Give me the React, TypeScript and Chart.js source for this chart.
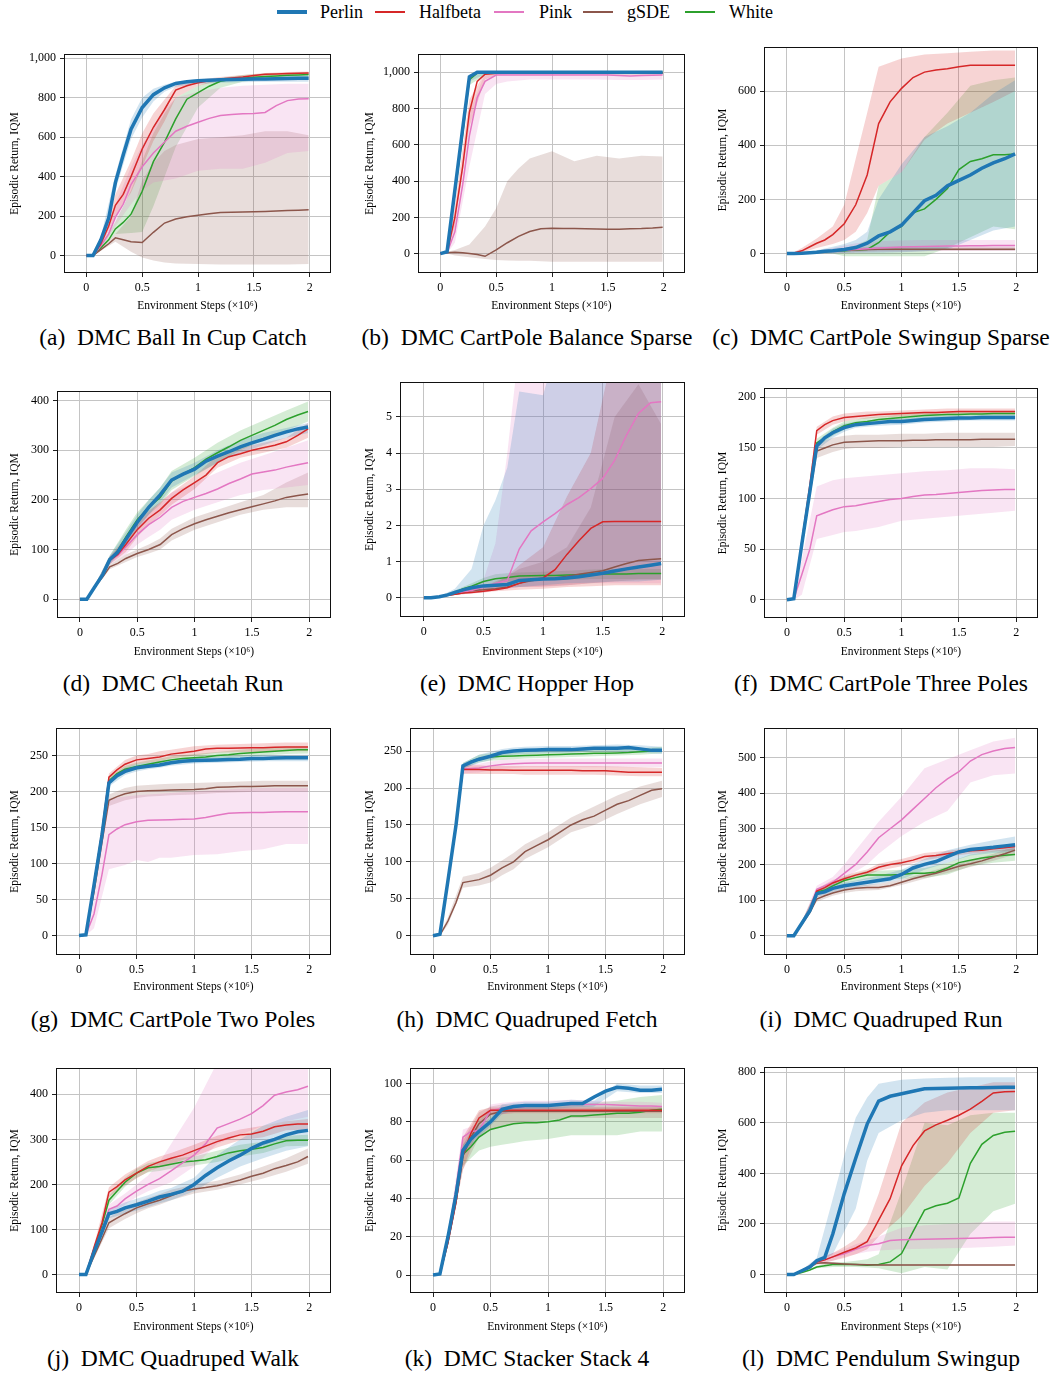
import React, { useEffect, useRef } from "react";
import { Chart, registerables } from "chart.js";
Chart.register(...registerables);

const FONT = '"Liberation Serif", "Times New Roman", Times, serif';

const SERIES = ["Perlin", "Halfbeta", "Pink", "gSDE", "White"];
const COLORS = ["#1f77b4", "#d62728", "#e377c2", "#8c564b", "#2ca02c"];

// x grid for mean lines (millions of steps) and for shaded IQM bands
const X = [0, 0.06, 0.13, 0.2, 0.26, 0.33, 0.4, 0.5, 0.6, 0.7, 0.8, 0.9, 1, 1.1, 1.2, 1.3, 1.4, 1.5, 1.6, 1.7, 1.8, 1.9, 1.99];
const XB = [0, 0.06, 0.13, 0.26, 0.4, 0.5, 0.6, 0.7, 0.8, 1, 1.2, 1.4, 1.6, 1.8, 1.99];
const X_TICKS = [0, 0.5, 1, 1.5, 2];

// (a) Ball In Cup Catch
const aPerlin = [0,0,80,190,370,510,640,750,815,850,872,880,885,888,890,892,893,894,895,896,897,898,898];
const aPerlinLo = [0,0,65,330,590,700,780,830,855,870,875,878,880,880,880];
const aPerlinHi = [0,0,95,410,690,800,845,865,880,895,900,905,908,910,912];
const aHalfbeta = [0,0,60,150,255,310,400,540,650,740,838,860,875,885,895,900,905,912,918,920,922,924,925];
const aHalfbetaLo = [0,0,45,200,320,450,580,680,800,860,885,900,910,915,918];
const aHalfbetaHi = [0,0,75,310,480,620,720,790,860,890,905,915,925,930,932];
const aPink = [0,0,50,110,195,260,360,450,520,575,630,655,675,695,710,715,718,720,725,760,785,793,795];
const aPinkLo = [0,0,35,150,260,330,370,380,390,430,440,440,470,520,530];
const aPinkHi = [0,0,70,260,450,560,650,740,800,830,850,860,865,870,870];
const aGsde = [0,0,30,60,90,80,70,66,118,165,185,197,205,212,218,220,221,222,224,226,228,230,232];
const aGsdeLo = [0,0,25,70,20,-10,-25,-35,-40,-42,-45,-45,-45,-45,-42];
const aGsdeHi = [0,0,35,110,200,380,470,530,560,590,600,610,630,630,610];
const aWhite = [0,0,40,80,135,168,210,326,476,575,692,792,825,858,883,893,898,903,907,910,913,915,917];
const aWhiteLo = [0,0,30,110,115,120,250,400,550,750,850,880,895,900,905];
const aWhiteHi = [0,0,55,170,330,480,620,720,800,860,900,915,922,925,928];

// (b) CartPole Balance Sparse
const bPerlin = [0,10,350,690,975,1000,1000,1000,1000,1000,1000,1000,1000,1000,1000,1000,1000,1000,1000,1000,1000,1000,1000];
const bPerlinLo = [0,5,330,950,990,990,992,992,992,992,992,992,992,992,992];
const bPerlinHi = [0,15,370,990,1005,1005,1005,1005,1005,1005,1005,1005,1005,1005,1005];
const bHalfbeta = [0,5,200,480,780,950,990,995,995,995,995,995,995,995,995,995,995,995,995,995,995,995,995];
const bHalfbetaLo = [0,0,150,700,960,985,988,988,988,988,988,988,988,988,988];
const bHalfbetaHi = [0,10,260,850,1000,1000,1000,1000,1000,1000,1000,1000,1000,1000,1000];
const bPink = [0,5,120,380,650,860,950,985,985,985,985,985,985,985,985,985,985,985,983,980,982,984,985];
const bPinkLo = [0,0,60,480,880,935,950,955,960,960,960,960,958,958,960];
const bPinkHi = [0,10,200,780,995,998,998,998,998,998,998,998,998,998,998];
const bGsde = [0,5,8,5,0,-5,-15,20,60,95,122,137,140,139,138,137,136,135,135,137,138,141,146];
const bGsdeLo = [0,0,-10,-20,-30,-35,-38,-40,-40,-45,-45,-45,-45,-45,-45];
const bGsdeHi = [0,10,20,50,150,250,400,470,525,565,510,540,525,540,535];
const bWhite = [0,10,330,660,960,995,1000,1000,1000,1000,1000,1000,1000,1000,1000,1000,1000,1000,1000,1000,1000,1000,1000];
const bWhiteLo = [0,5,310,930,985,990,990,990,990,990,990,990,990,990,990];
const bWhiteHi = [0,15,350,985,1003,1003,1003,1003,1003,1003,1003,1003,1003,1003,1003];

// (c) CartPole Swingup Sparse
const cPerlin = [0,0,1,3,5,8,10,15,22,38,65,80,105,150,195,215,250,270,290,315,335,350,368];
const cPerlinLo = [0,0,0,0,0,2,3,3,3,5,8,15,50,85,100];
const cPerlinHi = [0,0,3,12,25,35,50,80,200,330,430,470,520,590,640];
const cHalfbeta = [0,2,10,25,38,50,70,110,180,290,480,560,610,650,670,678,682,690,695,695,695,695,695];
const cHalfbetaLo = [0,0,3,20,35,50,80,150,250,300,420,480,520,560,600];
const cHalfbetaHi = [0,5,20,55,100,180,350,520,690,720,735,740,745,750,750];
const cPink = [0,0,1,3,5,7,9,12,15,18,20,22,24,25,26,27,28,28,29,29,30,30,30];
const cPinkLo = [0,0,0,0,1,2,3,4,5,6,8,10,10,10,10];
const cPinkHi = [0,0,3,10,20,30,38,42,45,48,50,50,50,50,50];
const cGsde = [0,0,1,3,5,7,9,12,14,15,16,16,16,16,16,16,16,16,16,16,16,16,16];
const cGsdeLo = [0,0,0,0,2,4,6,8,9,10,10,10,10,10,10];
const cGsdeHi = [0,0,3,8,15,20,22,24,25,25,25,25,25,25,25];
const cWhite = [0,0,1,3,5,7,8,10,13,15,40,80,100,150,165,200,240,310,340,350,365,365,368];
const cWhiteLo = [0,0,0,0,0,-10,-10,-10,-10,-10,-10,20,60,100,90];
const cWhiteHi = [0,0,3,10,15,20,30,50,250,300,430,520,620,640,650];

// (d) Cheetah Run
const dPerlin = [0,0,25,50,80,95,120,155,185,210,240,252,262,278,288,297,307,315,322,330,337,343,347];
const dPerlinLo = [0,0,22,70,105,140,170,195,225,250,275,295,310,325,335];
const dPerlinHi = [0,0,28,88,135,170,200,225,255,275,300,320,335,345,355];
const dHalfbeta = [0,0,25,48,78,90,110,140,163,180,203,220,235,250,275,287,293,300,305,310,317,330,343];
const dHalfbetaLo = [0,0,22,70,95,125,150,168,190,222,265,285,295,305,325];
const dHalfbetaHi = [0,0,28,86,125,155,178,195,215,248,290,305,315,325,355];
const dPink = [0,0,25,48,78,88,105,130,150,165,185,197,205,213,222,233,242,252,256,260,266,271,275];
const dPinkLo = [0,0,22,70,90,110,125,140,160,180,195,210,220,225,230];
const dPinkHi = [0,0,28,86,120,150,175,195,215,235,255,275,290,305,320];
const dGsde = [0,0,25,45,65,72,82,92,100,110,130,142,152,160,167,174,180,186,192,198,205,209,212];
const dGsdeLo = [0,0,22,60,75,85,92,100,118,140,155,170,180,185,185];
const dGsdeHi = [0,0,28,70,90,100,110,122,142,165,180,195,210,235,255];
const dWhite = [0,0,25,50,80,98,125,160,185,205,238,252,265,282,295,307,320,330,340,350,362,371,378];
const dWhiteLo = [0,0,22,72,110,145,170,190,220,248,275,300,320,340,358];
const dWhiteHi = [0,0,28,88,140,175,200,225,258,285,315,340,360,380,398];

// (e) Hopper Hop
const ePerlin = [0,0,0.03,0.08,0.15,0.22,0.28,0.33,0.35,0.37,0.48,0.5,0.52,0.53,0.55,0.58,0.63,0.68,0.74,0.8,0.85,0.9,0.95];
const ePerlinLo = [0,0,0.02,0.1,0.15,0.2,0.25,0.28,0.3,0.35,0.4,0.42,0.45,0.45,0.5];
const ePerlinHi = [0,0,0.04,0.25,0.8,2.0,2.7,3.6,5.7,5.6,8,8,8,8,8];
const eHalfbeta = [0,0,0.03,0.07,0.1,0.13,0.15,0.18,0.22,0.28,0.4,0.5,0.55,0.78,1.2,1.58,1.92,2.1,2.11,2.11,2.11,2.11,2.11];
const eHalfbetaLo = [0,0,0.02,0.08,0.12,0.15,0.18,0.2,0.22,0.25,0.3,0.32,0.35,0.35,0.35];
const eHalfbetaHi = [0,0,0.04,0.15,0.25,0.3,0.45,0.6,0.9,1.4,2.8,4.0,7,8,8];
const ePink = [0,0,0.03,0.08,0.12,0.16,0.2,0.3,0.4,0.48,1.35,1.85,2.1,2.33,2.58,2.77,3.02,3.3,3.8,4.5,5.1,5.39,5.42];
const ePinkLo = [0,0,0.02,0.08,0.12,0.15,0.2,0.25,0.3,0.3,0.35,0.4,0.4,0.4,0.4];
const ePinkHi = [0,0,0.04,0.15,0.3,0.5,1.5,4,7,8,8,8,8,8,8];
const eGsde = [0,0,0.03,0.07,0.1,0.14,0.2,0.22,0.25,0.3,0.4,0.47,0.52,0.55,0.6,0.65,0.7,0.75,0.85,0.95,1.03,1.06,1.08];
const eGsdeLo = [0,0,0.02,0.08,0.15,0.2,0.25,0.28,0.3,0.32,0.35,0.4,0.45,0.5,0.5];
const eGsdeHi = [0,0,0.04,0.15,0.25,0.3,0.4,0.6,0.8,1.0,1.4,2.5,5.0,5.9,4.8];
const eWhite = [0,0,0.03,0.08,0.15,0.25,0.32,0.45,0.53,0.56,0.6,0.61,0.62,0.62,0.63,0.64,0.65,0.66,0.66,0.66,0.67,0.67,0.67];
const eWhiteLo = [0,0,0.02,0.12,0.25,0.35,0.42,0.45,0.48,0.5,0.5,0.52,0.52,0.52,0.52];
const eWhiteHi = [0,0,0.04,0.2,0.4,0.55,0.65,0.68,0.7,0.72,0.75,0.78,0.8,0.8,0.8];

// (f) CartPole Three Poles
const fPerlin = [0,1,55,107,152,160,165,170,173,174,175,176,176,177,178,178.5,179,179.5,179.5,180,180,180,180];
const fPerlinLo = [0,0,52,148,160,166,170,171,172,173,175,176,177,177,177];
const fPerlinHi = [0,2,58,156,169,174,176,177,178,179,181,182,182,183,183];
const fHalfbeta = [0,1,58,113,167,173,177,180,181,182,183,183.5,184,184.5,185,185,185.5,186,186,186,186,186,186];
const fHalfbetaLo = [0,0,55,163,173,176,178,179,180,181,182,183,183,183,183];
const fHalfbetaHi = [0,2,61,171,181,184,185,186,186,187,188,189,189,189,189];
const fPink = [0,1,25,50,83,86,89,92,93,95,97,99,100,102,103.5,104,105,106,107,108,108.5,109,109];
const fPinkLo = [0,0,5,60,64,67,68,70,72,78,80,82,84,86,88];
const fPinkHi = [0,2,40,112,118,120,121,122,123,125,127,128,130,130,129];
const fGsde = [0,1,54,105,147,150,153,155.5,156,156.5,157,157,157,157.5,157.5,158,158,158,158,158.5,158.5,158.5,158.5];
const fGsdeLo = [0,0,50,140,146,149,150,150,150,151,151,151,151,151,152];
const fGsdeHi = [0,2,58,154,160,162,163,163,163,164,164,165,165,165,165];
const fWhite = [0,1,56,109,155,160,166,172,175,176,178,179,180,181,182,182.5,183,183,183.5,183.5,184,184,184];
const fWhiteLo = [0,0,53,151,162,168,172,174,175,177,179,180,181,181,181];
const fWhiteHi = [0,2,59,159,170,176,178,180,181,183,185,185,186,186,186];

// (g) CartPole Two Poles
const gPerlin = [0,1,70,140,212,222,228,233,235,237,240,242,243,243.5,244,244.5,245,246,246,246.5,247,247,247];
const gPerlinLo = [0,0,66,207,223,228,231,233,236,239,240,241,242,242,242];
const gPerlinHi = [0,2,74,217,233,238,240,242,245,248,249,250,251,251,251];
const gHalfbeta = [0,1,72,145,220,230,238,244,246,248,252,254,256,259,260,260,260.5,261,261,261.5,262,262,262];
const gHalfbetaLo = [0,0,68,215,232,238,240,242,246,250,254,255,255,256,256];
const gHalfbetaHi = [0,2,76,225,244,250,252,256,258,263,265,266,267,268,268];
const gPink = [0,1,30,85,140,148,154,158,160,160.5,161,161.5,162,164,167,170,170.5,171,171,171.5,172,172,172];
const gPinkLo = [0,0,10,92,98,105,102,108,108,112,113,117,120,127,127];
const gPinkHi = [0,2,50,190,193,195,196,197,198,200,202,204,205,205,205];
const gGsde = [0,1,60,130,188,193,197,200,201,201.5,202,202.5,203,204,206,206.5,207,207,207.5,208,208,208,208];
const gGsdeLo = [0,0,56,180,188,191,193,194,195,196,198,199,200,200,200];
const gGsdeHi = [0,2,64,196,205,208,209,210,211,212,213,214,215,215,215];
const gWhite = [0,1,71,143,215,225,231,235,238,241,244,246,247,248,250,251,253,254,255,256,257,258,258];
const gWhiteLo = [0,0,67,210,226,230,233,236,239,242,245,248,250,252,253];
const gWhiteHi = [0,2,75,220,236,240,243,246,249,252,255,258,260,262,263];

// (h) Quadruped Fetch
const hPerlin = [0,2,75,150,230,235,239,243,248,250,251,251.5,252,252,252,253,254,254,254,255,253,251,251];
const hPerlinLo = [0,0,71,226,234,238,243,245,246,247,248,249,249,248,246];
const hPerlinHi = [0,4,79,234,245,249,253,255,256,257,257,258,259,258,256];
const hHalfbeta = [0,2,75,150,225,225,225,224.5,224.5,224,224,224,224,224,224,223.5,223.5,223.5,222.5,221.5,221.5,221.5,221.5];
const hHalfbetaLo = [0,0,71,219,219,219,219,219,218,218,218,218,217,216,216];
const hHalfbetaHi = [0,4,79,231,231,230,230,230,230,230,230,230,229,228,227];
const hPink = [0,2,75,150,226,226.5,227,230,232,233,233.5,234,234,234,234,234,234,234,234,234,234,234,234];
const hPinkLo = [0,0,71,220,221,224,226,227,228,228,228,228,228,228,228];
const hPinkHi = [0,4,79,232,233,236,238,239,239,240,240,240,240,240,240];
const hGsde = [0,1,20,45,72,74,76,82,92,100,114,122,130,140,150,157,162,170,178,183,190,197,199];
const hGsdeLo = [0,0,15,65,68,72,82,90,104,120,140,150,165,178,188];
const hGsdeHi = [0,2,25,80,85,92,102,112,124,140,160,175,190,202,210];
const hWhite = [0,2,75,150,230,236,240,242,243,243.5,244,244.5,245,245.5,246,246.5,247,247,247.5,248,249,250,252];
const hWhiteLo = [0,0,71,226,235,237,238,239,240,241,242,243,244,245,247];
const hWhiteHi = [0,4,79,234,245,247,248,249,249,250,251,252,253,254,256];

// (i) Quadruped Run
const iPerlin = [0,0,35,70,118,123,133,140,145,150,155,160,172,190,200,208,222,235,242,245,248,252,255];
const iPerlinLo = [0,0,30,108,122,130,135,140,145,158,185,205,225,232,235];
const iPerlinHi = [0,0,40,128,145,150,155,162,168,185,215,240,255,268,278];
const iHalfbeta = [0,0,35,72,125,135,148,160,170,178,192,200,205,212,222,225,230,235,238,240,244,247,250];
const iHalfbetaLo = [0,0,30,118,140,152,162,170,182,195,212,222,230,236,240];
const iHalfbetaHi = [0,0,40,132,156,168,178,186,202,215,232,238,246,252,258];
const iPink = [0,0,35,75,130,140,150,175,200,235,275,300,325,355,385,415,440,460,490,508,518,525,528];
const iPinkLo = [0,0,30,120,140,160,180,200,230,280,320,350,430,450,455];
const iPinkHi = [0,0,40,140,165,200,240,280,320,390,470,495,520,545,555];
const iGsde = [0,0,32,65,103,112,120,128,133,135,135,140,150,160,168,175,185,195,202,210,220,230,240];
const iGsdeLo = [0,0,28,95,112,120,125,127,128,142,160,176,193,210,228];
const iGsdeHi = [0,0,36,112,128,136,141,143,145,158,176,194,212,230,250];
const iWhite = [0,0,35,70,122,128,140,155,163,170,170,170,172,175,175,178,190,205,212,218,222,226,228];
const iWhiteLo = [0,0,30,114,130,145,152,158,158,160,162,172,195,205,210];
const iWhiteHi = [0,0,40,130,150,165,174,182,182,185,190,205,228,238,245];

// (j) Quadruped Walk
const jPerlin = [0,0,50,95,135,140,148,155,163,172,178,185,200,220,237,252,265,280,292,300,310,317,320];
const jPerlinLo = [0,0,45,125,135,142,150,158,165,185,215,240,258,275,285];
const jPerlinHi = [0,0,55,145,160,168,176,186,192,215,265,300,330,350,365];
const jHalfbeta = [0,0,60,115,183,195,210,225,240,250,258,265,275,285,295,303,310,312,318,328,332,334,334];
const jHalfbetaLo = [0,0,55,172,198,213,228,238,246,262,282,298,305,320,322];
const jHalfbetaHi = [0,0,65,194,222,237,252,262,270,288,308,322,330,340,345];
const jPink = [0,0,50,100,145,152,168,185,200,213,230,248,265,290,325,335,345,357,375,398,405,410,418];
const jPinkLo = [0,0,45,135,155,172,185,195,205,240,290,310,330,340,350];
const jPinkHi = [0,0,55,155,180,200,220,250,290,370,470,500,500,500,500];
const jGsde = [0,0,40,80,115,125,135,148,157,165,175,185,190,193,197,203,210,218,225,235,242,250,262];
const jGsdeLo = [0,0,35,103,123,136,147,155,165,180,188,200,213,228,246];
const jGsdeHi = [0,0,45,127,147,160,170,178,188,200,208,222,240,258,280];
const jWhite = [0,0,55,110,165,185,205,225,237,240,245,250,252,255,262,270,275,278,282,290,297,298,298];
const jWhiteLo = [0,0,50,155,195,215,227,230,235,242,250,262,270,285,286];
const jWhiteHi = [0,0,60,175,215,235,247,252,257,262,275,288,295,308,310];

// (k) Stacker Stack 4
const kPerlin = [0,0.5,20,42,65,71,75,80,86.5,88,88.5,88.5,88.5,89,89.5,89.5,93,96,98,97.5,96.5,96.5,97];
const kPerlinLo = [0,0,18,62,72,78,84,86,86.5,86.5,87.5,88,96,95,95];
const kPerlinHi = [0,1,22,68,78,82,89,90,90.5,90.5,91.5,91,100,99,99];
const kHalfbeta = [0,0.5,17,38,63,74,82,86,86,86,86,86,86,86,86,86,86,86,86,86,86,86,86];
const kHalfbetaLo = [0,0,15,55,78,84,84,84.5,84.5,84.5,84.5,84.5,84.5,84.5,84.5];
const kHalfbetaHi = [0,1,19,72,86,87.5,87.5,87.5,87.5,87.5,87.5,87.5,87.5,87.5,87.5];
const kPink = [0,0.5,20,45,72,75,75.5,86,87,87.5,88,88.3,88.5,88.7,89,89,89,89,88.8,88.5,88.3,88.2,88];
const kPinkLo = [0,0,18,68,72,83,84,85,85.5,86,86,86,86,86,86];
const kPinkHi = [0,1,22,76,79,89,90,90.5,91,91,91.5,91,90.5,90.5,90];
const kGsde = [0,0.5,17,38,62,72,79,84,85.5,85.5,85.5,85.5,85.5,85.5,85.5,85.5,85.5,85.5,85.5,85.5,85.5,85.5,85.5];
const kGsdeLo = [0,0,15,55,72,76,78,79,80,81,82,82,82,82,82];
const kGsdeHi = [0,1,19,70,85,88,89,89,89,89,89,88,88,88,88];
const kWhite = [0,0.5,18,40,63,67,72,76,77.5,79,79.5,79.5,80,81,83,83,83.5,84,84.5,84.5,85,86,86.5];
const kWhiteLo = [0,0,16,57,65,67,68,69,70,71,73,73,73,75,75];
const kWhiteHi = [0,1,20,68,82,86,87,87.5,88,88,89,90,91,93,94];

// (l) Pendulum Swingup
const lPerlin = [0,0,15,30,55,68,160,320,460,595,686,705,715,725,735,736,737,738,739,739,740,741,741];
const lPerlinLo = [0,0,12,45,80,170,260,450,560,610,640,650,650,650,650];
const lPerlinHi = [0,0,18,65,300,470,620,700,755,770,775,778,780,780,780];
const lHalfbeta = [0,0,15,30,50,58,70,88,105,130,215,300,430,510,568,592,610,630,654,685,718,723,724];
const lHalfbetaLo = [0,0,12,40,55,65,80,100,150,230,350,440,560,640,650];
const lHalfbetaHi = [0,0,18,60,85,110,140,200,320,600,680,720,740,760,760];
const lPink = [0,0,15,30,50,58,70,82,100,115,122,135,138,139,140,141,142,143,144,145,146,147,147];
const lPinkLo = [0,0,12,42,55,70,80,90,95,100,102,104,106,110,115];
const lPinkHi = [0,0,18,58,85,100,120,135,150,185,195,200,205,210,210];
const lGsde = [0,0,15,30,45,47,45,42,40,39,38,38,38,38,38,38,38,38,38,38,38,38,38];
const lGsdeLo = [0,0,12,40,40,38,36,35,35,35,35,35,35,35,35];
const lGsdeHi = [0,0,18,50,50,46,44,42,41,41,41,41,41,41,41];
const lWhite = [0,0,8,18,30,35,40,40,40,37,40,50,83,170,255,272,282,303,440,515,550,563,567];
const lWhiteLo = [0,0,6,25,30,30,30,28,25,5,30,20,160,250,280];
const lWhiteHi = [0,0,10,35,48,50,55,60,80,330,600,590,630,640,640];

const T1000 = [0, 200, 400, 600, 800, 1000];

const PANELS = [
  { tag: "(a)", title: "DMC Ball In Cup Catch", yMin: -88, yMax: 1020, yTicks: T1000,
    mean: [aPerlin, aHalfbeta, aPink, aGsde, aWhite], lo: [aPerlinLo, aHalfbetaLo, aPinkLo, aGsdeLo, aWhiteLo], hi: [aPerlinHi, aHalfbetaHi, aPinkHi, aGsdeHi, aWhiteHi] },
  { tag: "(b)", title: "DMC CartPole Balance Sparse", yMin: -107, yMax: 1100, yTicks: T1000,
    mean: [bPerlin, bHalfbeta, bPink, bGsde, bWhite], lo: [bPerlinLo, bHalfbetaLo, bPinkLo, bGsdeLo, bWhiteLo], hi: [bPerlinHi, bHalfbetaHi, bPinkHi, bGsdeHi, bWhiteHi] },
  { tag: "(c)", title: "DMC CartPole Swingup Sparse", yMin: -72, yMax: 762, yTicks: [0, 200, 400, 600],
    mean: [cPerlin, cHalfbeta, cPink, cGsde, cWhite], lo: [cPerlinLo, cHalfbetaLo, cPinkLo, cGsdeLo, cWhiteLo], hi: [cPerlinHi, cHalfbetaHi, cPinkHi, cGsdeHi, cWhiteHi] },
  { tag: "(d)", title: "DMC Cheetah Run", yMin: -38, yMax: 419, yTicks: [0, 100, 200, 300, 400],
    mean: [dPerlin, dHalfbeta, dPink, dGsde, dWhite], lo: [dPerlinLo, dHalfbetaLo, dPinkLo, dGsdeLo, dWhiteLo], hi: [dPerlinHi, dHalfbetaHi, dPinkHi, dGsdeHi, dWhiteHi] },
  { tag: "(e)", title: "DMC Hopper Hop", yMin: -0.53, yMax: 5.96, yTicks: [0, 1, 2, 3, 4, 5],
    mean: [ePerlin, eHalfbeta, ePink, eGsde, eWhite], lo: [ePerlinLo, eHalfbetaLo, ePinkLo, eGsdeLo, eWhiteLo], hi: [ePerlinHi, eHalfbetaHi, ePinkHi, eGsdeHi, eWhiteHi] },
  { tag: "(f)", title: "DMC CartPole Three Poles", yMin: -18, yMax: 209, yTicks: [0, 50, 100, 150, 200],
    mean: [fPerlin, fHalfbeta, fPink, fGsde, fWhite], lo: [fPerlinLo, fHalfbetaLo, fPinkLo, fGsdeLo, fWhiteLo], hi: [fPerlinHi, fHalfbetaHi, fPinkHi, fGsdeHi, fWhiteHi] },
  { tag: "(g)", title: "DMC CartPole Two Poles", yMin: -27, yMax: 288, yTicks: [0, 50, 100, 150, 200, 250],
    mean: [gPerlin, gHalfbeta, gPink, gGsde, gWhite], lo: [gPerlinLo, gHalfbetaLo, gPinkLo, gGsdeLo, gWhiteLo], hi: [gPerlinHi, gHalfbetaHi, gPinkHi, gGsdeHi, gWhiteHi] },
  { tag: "(h)", title: "DMC Quadruped Fetch", yMin: -26, yMax: 281, yTicks: [0, 50, 100, 150, 200, 250],
    mean: [hPerlin, hHalfbeta, hPink, hGsde, hWhite], lo: [hPerlinLo, hHalfbetaLo, hPinkLo, hGsdeLo, hWhiteLo], hi: [hPerlinHi, hHalfbetaHi, hPinkHi, hGsdeHi, hWhiteHi] },
  { tag: "(i)", title: "DMC Quadruped Run", yMin: -54, yMax: 582, yTicks: [0, 100, 200, 300, 400, 500],
    mean: [iPerlin, iHalfbeta, iPink, iGsde, iWhite], lo: [iPerlinLo, iHalfbetaLo, iPinkLo, iGsdeLo, iWhiteLo], hi: [iPerlinHi, iHalfbetaHi, iPinkHi, iGsdeHi, iWhiteHi] },
  { tag: "(j)", title: "DMC Quadruped Walk", yMin: -41, yMax: 458, yTicks: [0, 100, 200, 300, 400],
    mean: [jPerlin, jHalfbeta, jPink, jGsde, jWhite], lo: [jPerlinLo, jHalfbetaLo, jPinkLo, jGsdeLo, jWhiteLo], hi: [jPerlinHi, jHalfbetaHi, jPinkHi, jGsdeHi, jWhiteHi] },
  { tag: "(k)", title: "DMC Stacker Stack 4", yMin: -9.4, yMax: 108, yTicks: [0, 20, 40, 60, 80, 100],
    mean: [kPerlin, kHalfbeta, kPink, kGsde, kWhite], lo: [kPerlinLo, kHalfbetaLo, kPinkLo, kGsdeLo, kWhiteLo], hi: [kPerlinHi, kHalfbetaHi, kPinkHi, kGsdeHi, kWhiteHi] },
  { tag: "(l)", title: "DMC Pendulum Swingup", yMin: -73, yMax: 820, yTicks: [0, 200, 400, 600, 800],
    mean: [lPerlin, lHalfbeta, lPink, lGsde, lWhite], lo: [lPerlinLo, lHalfbetaLo, lPinkLo, lGsdeLo, lWhiteLo], hi: [lPerlinHi, lHalfbetaHi, lPinkHi, lGsdeHi, lWhiteHi] },
];

// layout (page pixels): plot frame of each panel
const FRAMES = [
  { fl: 64, ft: 51, fr: 331, fb: 273 },
  { fl: 418, ft: 51, fr: 685, fb: 273 },
  { fl: 764, ft: 44, fr: 1038, fb: 273 },
  { fl: 57, ft: 388, fr: 331, fb: 618 },
  { fl: 400, ft: 379, fr: 685, fb: 617 },
  { fl: 764, ft: 385, fr: 1038, fb: 618 },
  { fl: 56, ft: 725, fr: 331, fb: 955 },
  { fl: 410, ft: 725, fr: 685, fb: 955 },
  { fl: 764, ft: 725, fr: 1038, fb: 955 },
  { fl: 56, ft: 1065, fr: 331, fb: 1293 },
  { fl: 410, ft: 1065, fr: 685, fb: 1293 },
  { fl: 764, ft: 1064, fr: 1038, fb: 1293 },
];
const COL_X = [0, 355, 708];
const COL_W = [345, 345, 347];
const ROW_BOTTOM = [315, 661, 996, 1336];
const CAP_X = [173, 527, 881];
const CAP_Y = [337, 683, 1019, 1358];

function rgba(hex: string, a: number) {
  const n = parseInt(hex.slice(1), 16);
  return `rgba(${(n >> 16) & 255},${(n >> 8) & 255},${n & 255},${a})`;
}

function fmt(v: number) {
  if (Math.abs(v) >= 1000) return v.toLocaleString("en-US");
  return String(v);
}

const framePlugin = {
  id: "frame",
  afterDraw(chart: any) {
    const { ctx, chartArea: a } = chart;
    ctx.save();
    ctx.strokeStyle = "#111";
    ctx.lineWidth = 1;
    ctx.strokeRect(Math.round(a.left) + 0.5, Math.round(a.top) + 0.5, Math.round(a.right - a.left) - 1, Math.round(a.bottom - a.top) - 1);
    ctx.restore();
  },
};

function Panel({ idx }: { idx: number }) {
  const ref = useRef<HTMLCanvasElement>(null);
  const p = PANELS[idx];
  const f = FRAMES[idx];
  const col = idx % 3;
  const row = Math.floor(idx / 3);
  const cx = COL_X[col];
  const cw = COL_W[col];
  const cy = f.ft - 8;
  const ch = ROW_BOTTOM[row] - cy;

  useEffect(() => {
    const datasets: any[] = [];
    SERIES.forEach((name, k) => {
      datasets.push({
        label: name + " lo",
        data: XB.map((x, i) => ({ x, y: p.lo[k][i] })),
        borderColor: "rgba(0,0,0,0)",
        borderWidth: 1,
        pointRadius: 0,
        fill: false,
        order: 20,
      });
      datasets.push({
        label: name + " hi",
        data: XB.map((x, i) => ({ x, y: p.hi[k][i] })),
        borderColor: "rgba(0,0,0,0)",
        borderWidth: 1,
        pointRadius: 0,
        backgroundColor: rgba(COLORS[k], 0.2),
        fill: "-1",
        order: 20,
      });
    });
    SERIES.forEach((name, k) => {
      datasets.push({
        label: name,
        data: X.map((x, i) => ({ x, y: p.mean[k][i] })),
        borderColor: COLORS[k],
        borderWidth: k === 0 ? 3.5 : 1.5,
        pointRadius: 0,
        fill: false,
        tension: 0,
        order: k,
      });
    });
    const tickFont = { family: FONT, size: 12 };
    const titleFont = { family: FONT, size: 11.5 };
    const chart = new Chart(ref.current as HTMLCanvasElement, {
      type: "line",
      data: { datasets },
      options: {
        animation: false,
        responsive: false,
        devicePixelRatio: 1,
        layout: { padding: { top: f.ft - cy, right: cx + cw - f.fr, left: 0, bottom: 0 }, autoPadding: false },
        plugins: {
          legend: { display: false },
          tooltip: { enabled: false },
          filler: { drawTime: "beforeDatasetsDraw" },
        },
        scales: {
          x: {
            type: "linear",
            min: -0.2,
            max: 2.19,
            afterBuildTicks: (s: any) => { s.ticks = X_TICKS.map((v) => ({ value: v })); },
            afterFit: (s: any) => { s.height = cy + ch - f.fb; },
            ticks: { callback: (v: any) => String(v), font: tickFont, color: "#000", padding: 4, maxRotation: 0, autoSkip: false },
            grid: { color: "#c4c4c4", lineWidth: 1, tickLength: 4, tickColor: "#222" },
            border: { display: false },
            title: { display: true, text: "Environment Steps (×10⁶)", font: titleFont, color: "#000", padding: { top: 0, bottom: 2 } },
          },
          y: {
            type: "linear",
            min: p.yMin,
            max: p.yMax,
            afterBuildTicks: (s: any) => { s.ticks = p.yTicks.map((v) => ({ value: v })); },
            afterFit: (s: any) => { s.width = f.fl - cx; },
            ticks: { callback: (v: any) => fmt(Number(v)), font: tickFont, color: "#000", padding: 4, autoSkip: false },
            grid: { color: "#c4c4c4", lineWidth: 1, tickLength: 4, tickColor: "#222" },
            border: { display: false },
            title: { display: true, text: "Episodic Return, IQM", font: titleFont, color: "#000", padding: { top: 8, bottom: 0 } },
          },
        },
      } as any,
      plugins: [framePlugin],
    });
    return () => chart.destroy();
  }, []);

  return (
    <>
      <canvas ref={ref} width={cw} height={ch} style={{ position: "absolute", left: cx, top: cy, width: cw, height: ch }} />
      <div style={{ position: "absolute", left: CAP_X[col] - 250, width: 500, top: CAP_Y[row] - 14, height: 28, lineHeight: "28px", textAlign: "center", fontFamily: FONT, fontSize: 23.5, color: "#000", whiteSpace: "nowrap" }}>
        {p.tag}&nbsp;&nbsp;{p.title}
      </div>
    </>
  );
}

const LEGEND_LINE_X = [277, 375, 494, 583, 685];
const LEGEND_TEXT_X = [320, 419, 539, 627, 729];

export default function App() {
  return (
    <div style={{ position: "absolute", left: 0, top: 0, width: 1055, height: 1373, background: "#fff", overflow: "hidden" }}>
      {SERIES.map((s, k) => (
        <React.Fragment key={s}>
          <div style={{ position: "absolute", left: LEGEND_LINE_X[k], top: 12 - (k === 0 ? 2 : 1), width: 30, height: k === 0 ? 4 : 2, background: COLORS[k] }} />
          <div style={{ position: "absolute", left: LEGEND_TEXT_X[k], top: 1, height: 22, lineHeight: "22px", fontFamily: FONT, fontSize: 18, color: "#000", whiteSpace: "nowrap" }}>{s}</div>
        </React.Fragment>
      ))}
      {PANELS.map((_, i) => <Panel key={i} idx={i} />)}
    </div>
  );
}
